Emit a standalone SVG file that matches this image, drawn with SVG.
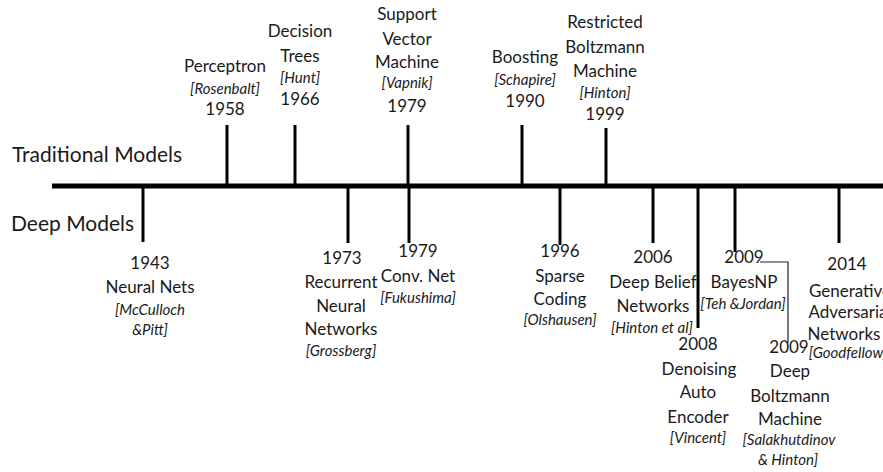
<svg xmlns="http://www.w3.org/2000/svg" width="883" height="472" viewBox="0 0 883 472">
<style>
text{font-family:Lato,"Liberation Sans",sans-serif;fill:#1a1a1a;text-anchor:middle}
.t{font-size:17px}
.c{font-size:15px;font-style:italic}
.h{font-size:21px;text-anchor:start}
.tick{stroke:#000;stroke-width:3;fill:none}
.thin{stroke:#222;stroke-width:1.2;fill:none}
</style>
<rect width="883" height="472" fill="#fff"/>
<g id="connectors">
<line x1="52" y1="186" x2="883" y2="186" stroke="#000" stroke-width="5"/>
<line class="tick" x1="227" y1="125" x2="227" y2="186"/>
<line class="tick" x1="295" y1="125" x2="295" y2="186"/>
<line class="tick" x1="408" y1="125" x2="408" y2="186"/>
<line class="tick" x1="522" y1="125" x2="522" y2="186"/>
<line class="tick" x1="606" y1="128" x2="606" y2="186"/>
<line class="tick" x1="143" y1="186" x2="143" y2="242"/>
<line class="tick" x1="348" y1="186" x2="348" y2="243"/>
<line class="tick" x1="409" y1="186" x2="409" y2="243"/>
<line class="tick" x1="560" y1="186" x2="560" y2="245"/>
<line class="tick" x1="653" y1="186" x2="653" y2="243"/>
<line class="tick" x1="698" y1="186" x2="698" y2="328"/>
<line class="tick" x1="735" y1="186" x2="735" y2="252"/>
<line class="tick" x1="839" y1="186" x2="839" y2="243"/>
<polyline class="thin" points="760,262 788,262 788,343"/>
</g>
<g id="traditional-label"><text class="h" x="12" y="162">Traditional Models</text></g>
<g id="deep-label"><text class="h" x="11" y="231">Deep Models</text></g>
<g id="perceptron">
<text class="t" x="225" y="72">Perceptron</text>
<text class="c" x="225" y="94">[Rosenbalt]</text>
<text class="t" x="225" y="115">1958</text>
</g>
<g id="decision-trees">
<text class="t" x="300" y="37">Decision</text>
<text class="t" x="300" y="62">Trees</text>
<text class="c" x="300" y="83">[Hunt]</text>
<text class="t" x="300" y="105">1966</text>
</g>
<g id="svm">
<text class="t" x="407" y="20">Support</text>
<text class="t" x="407" y="45">Vector</text>
<text class="t" x="407" y="68">Machine</text>
<text class="c" x="407" y="88">[Vapnik]</text>
<text class="t" x="407" y="112">1979</text>
</g>
<g id="boosting">
<text class="t" x="525" y="63">Boosting</text>
<text class="c" x="525" y="85">[Schapire]</text>
<text class="t" x="525" y="107">1990</text>
</g>
<g id="rbm">
<text class="t" x="605" y="28">Restricted</text>
<text class="t" x="605" y="53">Boltzmann</text>
<text class="t" x="605" y="77">Machine</text>
<text class="c" x="605" y="98">[Hinton]</text>
<text class="t" x="605" y="120">1999</text>
</g>
<g id="neural-nets">
<text class="t" x="150" y="269">1943</text>
<text class="t" x="150" y="293">Neural Nets</text>
<text class="c" x="150" y="315">[McCulloch</text>
<text class="c" x="150" y="335">&amp;Pitt]</text>
</g>
<g id="rnn">
<text class="t" x="342" y="264">1973</text>
<text class="t" x="341" y="288">Recurrent</text>
<text class="t" x="341" y="312">Neural</text>
<text class="t" x="341" y="335">Networks</text>
<text class="c" x="341" y="356">[Grossberg]</text>
</g>
<g id="conv-net">
<text class="t" x="418" y="257">1979</text>
<text class="t" x="418" y="282">Conv. Net</text>
<text class="c" x="418" y="303">[Fukushima]</text>
</g>
<g id="sparse-coding">
<text class="t" x="560" y="257">1996</text>
<text class="t" x="560" y="282">Sparse</text>
<text class="t" x="560" y="305">Coding</text>
<text class="c" x="560" y="325">[Olshausen]</text>
</g>
<g id="dbn">
<text class="t" x="653" y="263">2006</text>
<text class="t" x="653" y="288">Deep Belief</text>
<text class="t" x="653" y="312">Networks</text>
<text class="c" x="652" y="333">[Hinton et al]</text>
</g>
<g id="bayesnp">
<text class="t" x="744" y="263">2009</text>
<text class="t" x="744" y="288">BayesNP</text>
<text class="c" x="743" y="309">[Teh &amp;Jordan]</text>
</g>
<g id="gan">
<text class="t" x="847" y="270">2014</text>
<text class="t" x="850" y="297">Generative</text>
<text class="t" x="850" y="318">Adversarial</text>
<text class="t" x="844" y="340">Networks</text>
<text class="c" x="848" y="358">[Goodfellow]</text>
</g>
<g id="denoising-ae">
<text class="t" x="698" y="350">2008</text>
<text class="t" x="699" y="375">Denoising</text>
<text class="t" x="698" y="398">Auto</text>
<text class="t" x="698" y="423">Encoder</text>
<text class="c" x="698" y="443">[Vincent]</text>
</g>
<g id="dbm">
<text class="t" x="789" y="353">2009</text>
<text class="t" x="790" y="377">Deep</text>
<text class="t" x="790" y="402">Boltzmann</text>
<text class="t" x="790" y="425">Machine</text>
<text class="c" x="789" y="445">[Salakhutdinov</text>
<text class="c" x="788" y="465">&amp; Hinton]</text>
</g>
</svg>
